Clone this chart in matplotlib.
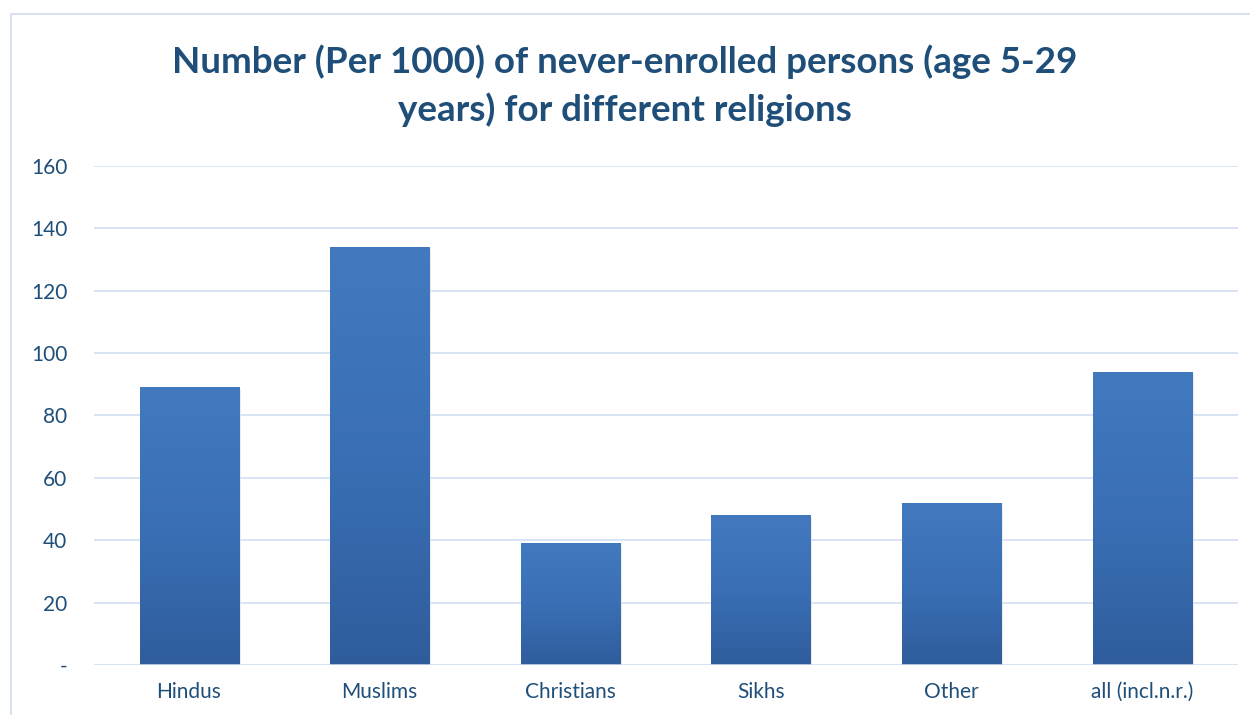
import matplotlib
matplotlib.use("Agg")
import matplotlib.pyplot as plt
import numpy as np
from matplotlib.patches import Rectangle

# data
religions = ["Hindus", "Muslims", "Christians", "Sikhs", "Other", "all (incl.n.r.)"]
never_enrolled = [89, 134, 39, 48, 52, 94]
y_ticks = [0, 20, 40, 60, 80, 100, 120, 140, 160]
y_tick_labels = ["-", "20", "40", "60", "80", "100", "120", "140", "160"]

plt.rcParams["font.family"] = ["Lato", "DejaVu Sans"]
text_col = "#1f4e79"
grid_col = "#d6e3f3"

fig = plt.figure(figsize=(12.5, 7.15), dpi=100)
ax = fig.add_axes([0.075, 0.070, 0.915, 0.698])

# outer chart frame
fig.patches.append(Rectangle((0.009, -0.01), 1.2, 0.99, transform=fig.transFigure,
                             fill=False, edgecolor="#d0dcee", lw=1.2))

x = np.arange(len(religions))
bars = ax.bar(x, never_enrolled, width=0.52, color="#3a6db0", zorder=2)

# vertical gradient inside each bar, lighter at the top
grad = np.linspace(0, 1, 256).reshape(-1, 1)
cmap = matplotlib.colors.LinearSegmentedColormap.from_list("g", ["#2f5d9c", "#3a6fb5", "#4279bf"])
for b in bars:
    bx, by = b.get_x(), b.get_y()
    bw, bh = b.get_width(), b.get_height()
    im = ax.imshow(grad, cmap=cmap, aspect="auto", origin="lower",
                   extent=[bx, bx + bw, by, by + bh], zorder=3)
    im.set_clip_path(b)
    # soft shadow
    ax.add_patch(Rectangle((bx + 0.01, by - 0.8), bw, bh, facecolor="#c8c8c8",
                           alpha=0.35, edgecolor="none", zorder=1.5))

ax.set_xlim(-0.5, len(religions) - 0.5)
ax.set_ylim(0, 160)
ax.set_yticks(y_ticks)
ax.set_yticklabels(y_tick_labels)
ax.set_xticks(x)
ax.set_xticklabels(religions)
ax.tick_params(axis="both", length=0, labelsize=15, colors=text_col)
ax.tick_params(axis="y", pad=19)
ax.tick_params(axis="x", pad=12)
ax.grid(axis="y", color=grid_col, lw=1.3, zorder=0)
ax.axhline(0, color=grid_col, lw=1.8, zorder=4)
for s in ax.spines.values():
    s.set_visible(False)

fig.text(0.5, 0.880, "Number (Per 1000) of never-enrolled persons (age 5-29\nyears) for different religions",
         ha="center", va="center", fontsize=26.5, fontweight="bold", color=text_col,
         linespacing=1.45)

plt.savefig("out.png", dpi=100)
